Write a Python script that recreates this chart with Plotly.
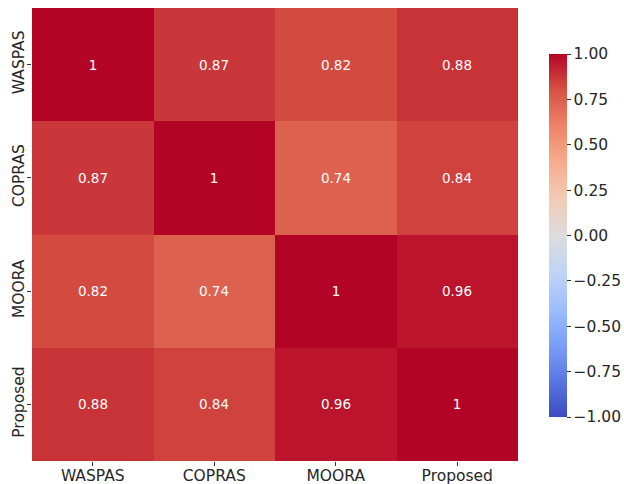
import plotly.graph_objects as go

methods = ["WASPAS", "COPRAS", "MOORA", "Proposed"]
corr = [
    [1.00, 0.87, 0.82, 0.88],
    [0.87, 1.00, 0.74, 0.84],
    [0.82, 0.74, 1.00, 0.96],
    [0.88, 0.84, 0.96, 1.00],
]
cbar_ticks = [-1.0, -0.75, -0.5, -0.25, 0.0, 0.25, 0.5, 0.75, 1.0]

coolwarm_hex = ["#3b4cc0", "#5977e3", "#7b9ff9", "#9ebeff", "#c0d4f5", "#dddcdc",
                "#f2cbb7", "#f7ac8e", "#ee8468", "#d65244", "#b40426"]
colorscale = [[i / 10, c] for i, c in enumerate(coolwarm_hex)]

labels = [[("%g" % v) for v in row] for row in corr]

W, H = 624, 484
ml, mt, mb = 32, 8, 23
pw = W - ml
ph = H - mt - mb

fig = go.Figure(go.Heatmap(
    z=corr, x=methods, y=methods,
    zmin=-1, zmax=1, colorscale=colorscale,
    text=labels, texttemplate="%{text}",
    textfont=dict(family="DejaVu Sans", size=13.5, color="white"),
    colorbar=dict(
        x=(549 - ml) / pw, xanchor="left", xpad=0,
        y=(H - mb - 235.5) / ph, yanchor="middle", ypad=0,
        len=363 / ph, lenmode="fraction", thickness=18, outlinewidth=0,
        tickvals=cbar_ticks,
        ticktext=["%.2f" % t if t >= 0 else "\u2212%.2f" % -t for t in cbar_ticks],
        ticks="outside", ticklen=4, tickcolor="#333",
        tickfont=dict(family="DejaVu Sans", size=15.5, color="#262626"),
    ),
))

fig.update_layout(
    width=W, height=H,
    margin=dict(l=ml, r=0, t=mt, b=mb, autoexpand=False),
    paper_bgcolor="white", plot_bgcolor="white",
    font=dict(family="DejaVu Sans", color="#262626"),
)
fig.update_xaxes(domain=[0, (518 - ml) / pw], ticks="outside", ticklen=4, tickcolor="#333",
                 showgrid=False, tickfont=dict(size=15.5), zeroline=False, automargin=False,
                 ticklabelstandoff=-4)
fig.update_yaxes(ticks="outside", ticklen=4, tickcolor="#333", showgrid=False,
                 autorange="reversed", tickangle=-90, tickfont=dict(size=15.5),
                 zeroline=False, automargin=False, ticklabelstandoff=-3)

fig.write_html("out.html")
